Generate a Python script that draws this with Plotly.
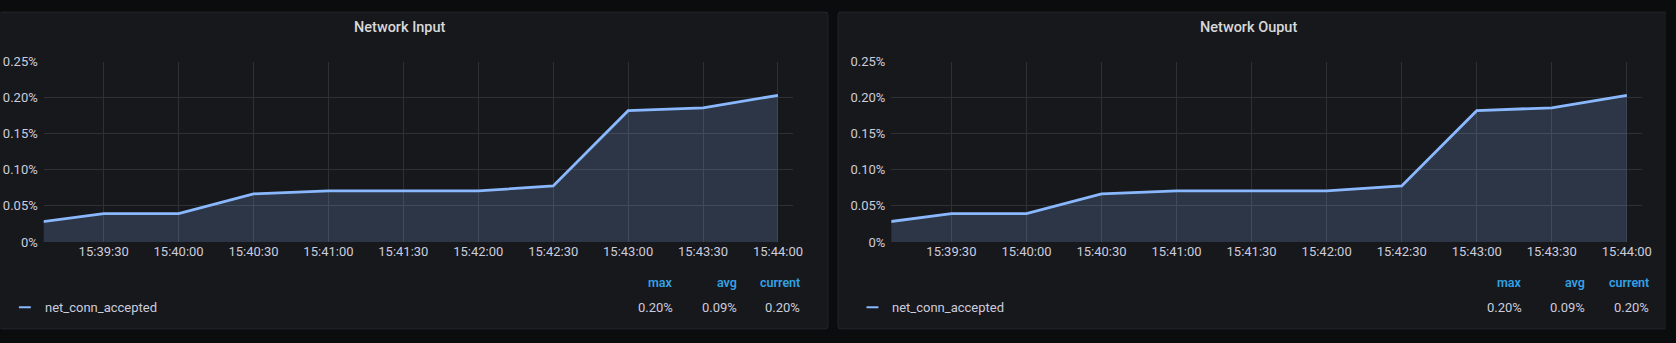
import plotly.graph_objects as go

# Sample timestamps and connection-accept rate (percent)
times = ["2024-01-01 15:39:00", "2024-01-01 15:39:30", "2024-01-01 15:40:00",
         "2024-01-01 15:40:30", "2024-01-01 15:41:00", "2024-01-01 15:41:30",
         "2024-01-01 15:42:00", "2024-01-01 15:42:30", "2024-01-01 15:43:00",
         "2024-01-01 15:43:30", "2024-01-01 15:44:00"]
input_rate = [0.0257, 0.0394, 0.0394, 0.0668, 0.0708, 0.0708, 0.0708, 0.0778, 0.1822, 0.1862, 0.2034]
output_rate = [0.0257, 0.0394, 0.0394, 0.0668, 0.0708, 0.0708, 0.0708, 0.0778, 0.1822, 0.1862, 0.2034]

panel_titles = ["Network Input", "Network Ouput"]
series_name = "net_conn_accepted"
y_tick_vals = [0, 0.05, 0.10, 0.15, 0.20, 0.25]
y_tick_text = ["0%", "0.05%", "0.10%", "0.15%", "0.20%", "0.25%"]
x_tick_vals = ["2024-01-01 15:39:30", "2024-01-01 15:40:00", "2024-01-01 15:40:30",
               "2024-01-01 15:41:00", "2024-01-01 15:41:30", "2024-01-01 15:42:00",
               "2024-01-01 15:42:30", "2024-01-01 15:43:00", "2024-01-01 15:43:30",
               "2024-01-01 15:44:00"]
x_tick_text = ["15:39:30", "15:40:00", "15:40:30", "15:41:00", "15:41:30",
               "15:42:00", "15:42:30", "15:43:00", "15:43:30", "15:44:00"]
x_range = ["2024-01-01 15:39:06", "2024-01-01 15:44:06"]

W, H = 1676, 343
BG = "#0b0c0e"
PANEL = "#17181c"
PANEL_EDGE = "#222429"
GRID = "#2e3035"
LINE = "#8ab8ff"
FILL = "rgba(138,184,255,0.19)"
TEXT = "#ccccdc"
HEAD = "#33a2e5"
FONT = "Roboto, Inter, sans-serif"


def px(x):
    return x / W


def py(y):
    return 1 - y / H


def panel_path(left, right, top, bottom, round_left, round_right, r=3):
    """Panel outline in paper coordinates; sides cut by the page edge are left open."""
    pts = []
    if round_left:
        pts.append(f"M {px(left)},{py(bottom - r)} L {px(left)},{py(top + r)} "
                   f"Q {px(left)},{py(top)} {px(left + r)},{py(top)}")
    else:
        pts.append(f"M {px(left)},{py(top)}")
    if round_right:
        pts.append(f"L {px(right - r)},{py(top)} Q {px(right)},{py(top)} {px(right)},{py(top + r)} "
                   f"L {px(right)},{py(bottom - r)} Q {px(right)},{py(bottom)} {px(right - r)},{py(bottom)}")
    else:
        pts.append(f"L {px(right)},{py(top)} M {px(right)},{py(bottom)}")
    if round_left:
        pts.append(f"L {px(left + r)},{py(bottom)} Q {px(left)},{py(bottom)} {px(left)},{py(bottom - r)}")
    else:
        pts.append(f"L {px(left)},{py(bottom)}")
    return " ".join(pts)


fig = go.Figure()

# Panel geometry in pixels: (panel left, panel right, plot left, plot right, title centre)
panels = [(0, 833, 44, 797.7, 402), (843, 1676, 896.7, 1651.7, 1256)]
plot_top, plot_bottom = 57.3, 245.7
series = [input_rate, output_rate]

shapes = []
annotations = []
layout_axes = {}

for i, ((pl, pr, xl, xr, tc), title, vals) in enumerate(zip(panels, panel_titles, series)):
    n = "" if i == 0 else str(i + 1)
    xa, ya = "x" + n, "y" + n

    # panel background and its visible border (kept just inside the page)
    shapes.append(dict(type="rect", xref="paper", yref="paper",
                       x0=px(pl), x1=px(pr), y0=py(337), y1=py(5),
                       fillcolor=PANEL, line=dict(width=0), layer="below"))
    shapes.append(dict(type="path", xref="paper", yref="paper",
                       path=panel_path(max(pl, 1), min(pr, W - 1), 5.5, 336.5, i == 1, i == 0),
                       line=dict(color=PANEL_EDGE, width=1), layer="below"))

    fig.add_trace(go.Scatter(
        x=times, y=vals, mode="lines", name=series_name,
        line=dict(color=LINE, width=2.8), fill="tozeroy", fillcolor=FILL,
        xaxis=xa, yaxis=ya, showlegend=False, hoverinfo="skip"))

    layout_axes["xaxis" + n] = dict(
        domain=[px(xl), px(xr)], anchor=ya, type="date", range=x_range,
        tickvals=x_tick_vals, ticktext=x_tick_text, showgrid=True,
        gridcolor=GRID, gridwidth=1, zeroline=False, showline=False,
        ticks="", tickfont=dict(family=FONT, size=13, color=TEXT),
        fixedrange=True)
    layout_axes["yaxis" + n] = dict(
        domain=[py(plot_bottom), py(plot_top)], anchor=xa, range=[0, 0.25],
        tickvals=y_tick_vals, ticktext=y_tick_text, showgrid=True,
        gridcolor=GRID, gridwidth=1, zeroline=False, showline=False,
        ticks="", ticklabelstandoff=5,
        tickfont=dict(family=FONT, size=13, color=TEXT), fixedrange=True)

    # Panel title
    annotations.append(dict(
        text=title, xref="paper", yref="paper", x=px(tc),
        y=py(21.5), xanchor="center", yanchor="middle", showarrow=False,
        font=dict(family=FONT, size=14.5, color="#d8d9da", weight=500)))

    # Legend row: colour dash and series name
    lx = xl - 25
    shapes.append(dict(type="line", xref="paper", yref="paper",
                       x0=px(lx), x1=px(lx + 12), y0=py(314), y1=py(314),
                       line=dict(color=LINE, width=2)))
    annotations.append(dict(
        text=series_name, xref="paper", yref="paper", x=px(lx + 24),
        y=py(314), xanchor="left", yanchor="middle", showarrow=False,
        font=dict(family=FONT, size=13, color=TEXT)))

    # Legend statistics
    stats = {"max": max(vals), "avg": sum(vals) / len(vals), "current": vals[-1]}
    right_edges = [xr - 119, xr - 54.7, xr + 9.6]
    for (label, value), rx in zip(stats.items(), right_edges):
        annotations.append(dict(
            text=label, xref="paper", yref="paper", x=px(rx), y=py(288.5),
            xanchor="right", yanchor="middle", showarrow=False,
            font=dict(family=FONT, size=12.5, color=HEAD, weight=600)))
        annotations.append(dict(
            text=f"{value:.2f}%", xref="paper", yref="paper", x=px(rx), y=py(314),
            xanchor="right", yanchor="middle", showarrow=False,
            font=dict(family=FONT, size=13, color=TEXT)))

fig.update_layout(
    width=W, height=H, margin=dict(l=0, r=0, t=0, b=0),
    paper_bgcolor=BG, plot_bgcolor="rgba(0,0,0,0)",
    shapes=shapes, annotations=annotations, showlegend=False,
    dragmode=False, hovermode=False,
    **layout_axes)

# Keep the page exactly the size of the chart
page_fit = ("var d=document.getElementById('{plot_id}');"
            "d.style.overflow='hidden';"
            "d.parentElement.style.overflow='hidden';"
            "document.body.style.margin='0';"
            "document.body.style.overflow='hidden';"
            "document.documentElement.style.overflow='hidden';")

fig.write_html("out.html", config={"staticPlot": True}, post_script=page_fit)
